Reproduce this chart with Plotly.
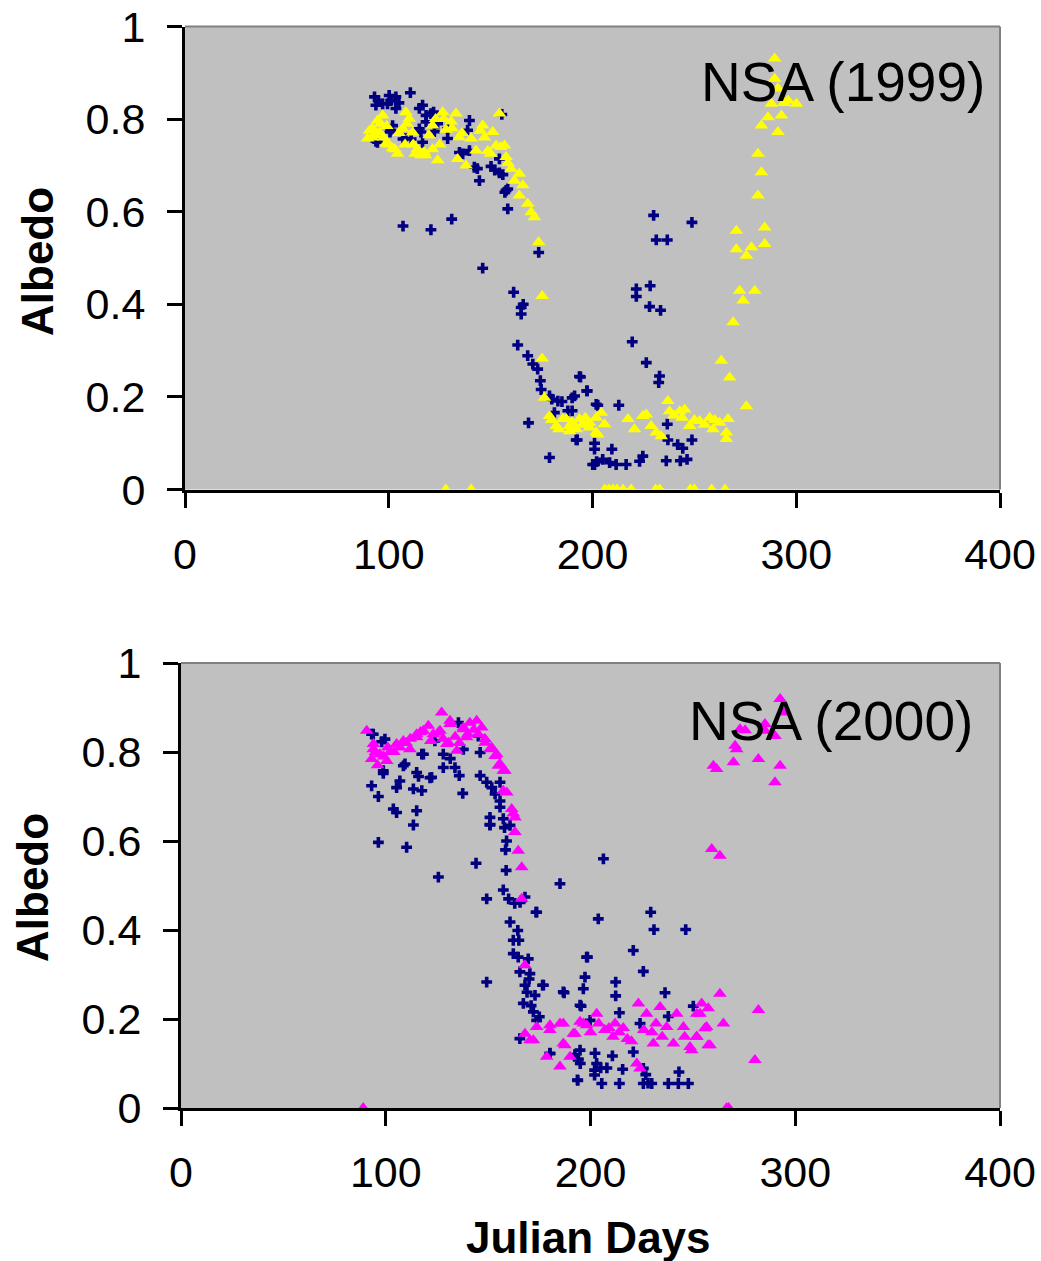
import plotly.graph_objects as go

# ---------------- data ----------------
# NSA 1999 - navy series
b99_x = [93, 93.7, 95, 97, 99.4, 100.2, 101, 103.5, 103.5, 105, 110.6,
         115, 116.6, 118.3, 120.7, 118.3, 122,
         101.9, 101, 100.6, 108.4, 107, 111, 116.6, 93.7, 94.5, 115, 115.8, 122.4, 124, 128.9, 128.9, 139.6, 138.7,
         136.3, 134.7, 139.6, 142, 143.5, 150.2, 152, 154.3, 154.3, 156, 144.5, 158.4, 157, 158.4, 157.6, 155.5,
         107, 120.7, 130.9,
         146.1, 173.6, 161.3, 165, 165, 166, 163.3, 168.2, 170.7, 173.1, 174.4, 174.8, 178.9, 180, 183, 185, 191.2, 190,
         193.6, 197.2, 201.8, 187.9, 190, 181.3, 168.6, 192, 178.9, 201, 201, 201, 202,
         230, 248.8, 231.3, 236.7, 228.3, 221.5, 221.5, 228, 233.4, 219.5, 226.4, 232.9, 232.5, 194.1, 197.4, 202.6, 212.9,
         192.5, 209.5, 200.1, 205, 208.4, 211.6, 216.5, 223.1, 224.7,
         236.7, 237, 241.8, 244.3, 246.4, 243.1, 236.2, 248.8]
b99_y = [0.848, 0.83, 0.84, 0.833, 0.833, 0.851, 0.84, 0.848, 0.823, 0.835, 0.857,
         0.823, 0.83, 0.808, 0.812, 0.794, 0.815,
         0.786, 0.776, 0.772, 0.758, 0.757, 0.757, 0.75, 0.752, 0.75, 0.779, 0.772, 0.773, 0.79, 0.779, 0.758, 0.797, 0.776,
         0.725, 0.728, 0.732, 0.696, 0.693, 0.698, 0.69, 0.714, 0.684, 0.68, 0.667, 0.649, 0.642, 0.606, 0.646, 0.81,
         0.569, 0.561, 0.584,
         0.478, 0.512, 0.426, 0.393, 0.379, 0.40, 0.312, 0.289, 0.271, 0.26, 0.235, 0.216, 0.202, 0.195, 0.191, 0.19, 0.202, 0.198,
         0.244, 0.213, 0.184, 0.17, 0.17, 0.166, 0.144, 0.107, 0.069, 0.10, 0.087, 0.054, 0.06,
         0.592, 0.577, 0.539, 0.539, 0.44, 0.433, 0.417, 0.395, 0.387, 0.319, 0.274, 0.245, 0.231, 0.243, 0.213, 0.182, 0.182,
         0.107, 0.087, 0.054, 0.065, 0.058, 0.054, 0.054, 0.061, 0.072,
         0.141, 0.107, 0.097, 0.089, 0.065, 0.062, 0.062, 0.107]

# NSA 1999 - yellow series
y99_x = [89.6, 92, 94.5, 97, 95.3, 98.6, 101.9, 104.3, 92, 96, 99, 108.4, 110, 106.8, 111.7, 109, 105,
         115.8, 117.4, 124, 121.5, 126.5, 133, 130.6, 128.1, 134.6, 121.5, 119.8, 123, 112, 108,
         90.5, 93, 97.5, 100, 103, 113, 114, 118, 125, 127, 131, 136, 147, 150, 155, 158.5,
         140.4, 137.9, 133.8, 142.8, 146.1, 145, 151, 154.3, 148.6, 152.7, 156.8, 157.6, 160, 164.1, 161.7,
         165.8, 164.1, 168.2, 169.9, 171.5, 173.6, 175.3, 175.3, 176.4, 178.9, 182.2, 185.4, 188.7, 193.6,
         198.5, 201.8, 187.1, 188.7, 198.5, 201.8, 204.3, 205.9, 202.6, 180, 190, 195, 183.5, 192, 196.5,
         217.4, 220.6, 224.7, 226.4, 228.8, 231.3, 233.7, 237, 237.8, 242.8, 245.2, 247.7, 252.6, 257.5,
         259.1, 262.4, 265.7, 266.5, 265.7, 240, 250, 255, 260, 244,
         263.2, 267.3, 275.5, 269, 273.9, 272.2, 279.6, 270.6, 284.5, 270.6, 278, 275.5, 284.5, 281.2,
         282.9, 281.2, 282.9, 291, 286.1, 292.7, 287.8, 296, 300.1, 291, 289.4, 289.4, 294,
         128, 140.4, 206, 208, 210, 212, 215, 219, 231, 233, 248, 250, 258.5, 265]
y99_y = [0.758, 0.78, 0.797, 0.808, 0.771, 0.747, 0.737, 0.725, 0.76, 0.79, 0.785, 0.815, 0.801, 0.779, 0.771, 0.79, 0.77,
         0.722, 0.729, 0.711, 0.735, 0.815, 0.812, 0.795, 0.777, 0.761, 0.786, 0.765, 0.80, 0.745, 0.745,
         0.775, 0.765, 0.76, 0.745, 0.735, 0.725, 0.735, 0.722, 0.745, 0.80, 0.78, 0.77, 0.76, 0.725, 0.74, 0.705,
         0.758, 0.70, 0.714, 0.732, 0.786, 0.775, 0.772, 0.812, 0.731, 0.743, 0.743, 0.718, 0.693, 0.682, 0.667,
         0.657, 0.635, 0.617, 0.599, 0.588, 0.534, 0.418, 0.283, 0.198, 0.159, 0.137, 0.152, 0.137, 0.152,
         0.144, 0.123, 0.152, 0.126, 0.134, 0.155, 0.166, 0.141, 0.119, 0.15, 0.145, 0.14, 0.13, 0.13, 0.155,
         0.152, 0.13, 0.159, 0.162, 0.137, 0.123, 0.115, 0.191, 0.169, 0.169, 0.173, 0.137, 0.148, 0.155,
         0.13, 0.144, 0.123, 0.152, 0.109, 0.16, 0.15, 0.14, 0.15, 0.155,
         0.278, 0.242, 0.18, 0.361, 0.408, 0.429, 0.429, 0.559, 0.566, 0.519, 0.523, 0.505, 0.53, 0.635,
         0.685, 0.725, 0.786, 0.772, 0.804, 0.808, 0.833, 0.84, 0.833, 0.866, 0.887, 0.931, 0.835,
         0, 0, 0, 0, 0, 0, 0, 0, 0, 0, 0, 0, 0, 0]

# NSA 2000 - navy series
b00_x = [93.1, 93.9, 99.6, 98, 98.8, 98.8, 93.1, 96.4, 103.7, 105.3, 106.9, 105.3, 108.6, 109.4, 115.1, 117.6, 116,
         121.6, 113.5, 115.1, 113.5, 96.4, 110.2, 118.4, 117.6, 122.4, 124, 128.1, 128.1, 131.5, 133.8, 135.5,
         135.9, 137.6, 137.9, 145.2, 146.1, 146.1, 149.3, 151.8, 153.4, 155.8, 155.8, 155.8, 150.9, 150.9, 157.4,
         158, 159, 158.5, 160.7, 144.1, 125.7, 158.8, 157.4, 160, 163, 165.6, 149.3, 160.7, 164.5, 173.7, 185.1,
         162.3, 165, 162.3, 164.7, 169.6, 165.5, 170.4, 168, 172.9, 167.2, 172.1, 173.7, 175, 149.3, 177, 186.7,
         194.9, 196.5, 197.3, 198.1, 165.5, 180.2, 192.4, 194, 195, 193.8,
         150.9, 206.3, 168, 173.4, 203.8, 229.4, 231, 246.5, 220.9, 198.5, 225.8, 176.6, 212.3, 212.3, 187.1,
         236.4, 195.4, 214.1, 238, 250.2, 199.8, 224.2, 180.2, 194.9, 194, 202.2, 210.7, 220.9, 203, 202, 205,
         208, 202, 215.7, 225.8, 227, 228.1, 193.6, 205.5, 214.1, 225.8, 229.9, 238, 242.9, 247.8, 243.2,
         170, 169, 171]
b00_y = [0.840, 0.840, 0.829, 0.823, 0.758, 0.752, 0.724, 0.70, 0.672, 0.664, 0.735, 0.72, 0.769, 0.773, 0.754, 0.713, 0.745,
         0.742, 0.717, 0.668, 0.636, 0.597, 0.586, 0.795, 0.795, 0.743, 0.825, 0.795, 0.765, 0.785, 0.765, 0.866,
         0.747, 0.707, 0.806, 0.836, 0.799, 0.747, 0.732, 0.72, 0.706, 0.732, 0.69, 0.676, 0.653, 0.636, 0.65,
         0.63, 0.60, 0.58, 0.635, 0.55, 0.519, 0.534, 0.49, 0.47, 0.46, 0.462, 0.47, 0.418, 0.399, 0.44, 0.504,
         0.377, 0.377, 0.347, 0.339, 0.335, 0.306, 0.302, 0.276, 0.253, 0.235, 0.216, 0.197, 0.205, 0.283, 0.276, 0.261,
         0.231, 0.268, 0.294, 0.339, 0.156, 0.122, 0.12, 0.11, 0.10, 0.062,
         0.637, 0.56, 0.474, 0.44, 0.425, 0.44, 0.401, 0.401, 0.354, 0.339, 0.307, 0.276, 0.283, 0.252, 0.259,
         0.259, 0.229, 0.214, 0.206, 0.229, 0.197, 0.19, 0.123, 0.13, 0.108, 0.123, 0.117, 0.126, 0.10, 0.085, 0.09,
         0.09, 0.074, 0.087, 0.089, 0.075, 0.056, 0.063, 0.055, 0.055, 0.055, 0.055, 0.055, 0.055, 0.055, 0.081,
         0.29, 0.26, 0.23]

# NSA 2000 - magenta series
m00_x = [90.7, 93.9, 93.1, 97.1, 100.5, 102.1, 94, 96, 99, 105.3, 108.6, 111.8, 115.1, 115.1, 118.3, 120.8, 123.2,
         125.7, 126.5, 127.3, 131.4, 131.4, 129.8, 130.6, 134.7, 133.9, 137.9, 137.9, 139.5, 141.1, 144.4, 146.9,
         145.2, 148.5, 148.5, 150.9, 151.7, 153.4, 154.2, 155, 155.8, 157.4, 158.2, 157.4, 159.1, 161.5, 162.3,
         163.1, 163.1, 164.7, 166.4, 166.4, 168, 112, 104, 122, 140, 143,
         95, 101, 107, 110, 117, 128, 136,
         168, 172.1, 173.7, 180.2, 185.1, 178.6, 185.1, 187.5, 190, 192.4, 196.5, 170.5, 180.2, 186.7, 186.7,
         191.6, 194.9, 198.1, 203, 204, 207, 211, 212, 214, 218, 220, 222.6, 224.2, 223.4, 227.4, 226, 230.7,
         234, 237.2, 240.5, 242.1, 245.4, 248.6, 251.8, 253.5, 254.3, 257.5, 256.7, 258.4, 263.2, 264.9, 282,
         280.3, 200, 209, 232, 235, 246, 249.4, 251.9, 255.9, 257.5, 251.9, 230, 216,
         259.2, 263.2, 260, 261.6, 269.8, 270.6, 271.4, 273, 275.5, 282, 285.2, 285.2, 290.1, 292.6, 290.1,
         292.6, 294.2,
         89, 266.5, 267.5]
m00_y = [0.848, 0.806, 0.784, 0.795, 0.78, 0.80, 0.818, 0.77, 0.79, 0.818, 0.825, 0.806, 0.833, 0.84, 0.848, 0.859, 0.84,
         0.844, 0.848, 0.889, 0.863, 0.87, 0.818, 0.821, 0.803, 0.834, 0.851, 0.855, 0.833, 0.866, 0.87, 0.855,
         0.84, 0.829, 0.821, 0.806, 0.81, 0.791, 0.795, 0.769, 0.773, 0.758, 0.758, 0.713, 0.709, 0.672, 0.662,
         0.653, 0.62, 0.578, 0.541, 0.47, 0.321, 0.83, 0.80, 0.825, 0.84, 0.85,
         0.80, 0.81, 0.81, 0.82, 0.845, 0.83, 0.82,
         0.167, 0.152, 0.182, 0.175, 0.19, 0.115, 0.093, 0.141, 0.115, 0.167, 0.19, 0.152, 0.186, 0.19, 0.145,
         0.167, 0.194, 0.186, 0.212, 0.19, 0.175, 0.16, 0.19, 0.17, 0.155, 0.15, 0.10, 0.089, 0.235, 0.212, 0.175, 0.145,
         0.227, 0.182, 0.145, 0.212, 0.182, 0.137, 0.16, 0.212, 0.235, 0.224, 0.182, 0.141, 0.257, 0.19, 0.22,
         0.108, 0.17, 0.18, 0.19, 0.16, 0.16, 0.13, 0.16, 0.179, 0.141, 0.212, 0.17, 0.18,
         0.582, 0.567, 0.769, 0.762, 0.777, 0.814, 0.806, 0.851, 0.849, 0.784, 0.863, 0.848, 0.836, 0.769, 0.732,
         0.919, 0.889,
         0, 0, 0]

x_ticks = [0, 100, 200, 300, 400]
y_ticks = [0, 0.2, 0.4, 0.6, 0.8, 1]
y_tick_text = ["0", "0.2", "0.4", "0.6", "0.8", "1"]
titles = ["NSA (1999)", "NSA (2000)"]
x_title = "Julian Days"
y_title = "Albedo"

# ---------------- figure ----------------
W, H = 1041, 1261
NAVY, YELLOW, MAGENTA, BG = "#000080", "#FFFF00", "#FF00FF", "#C0C0C0"
FONT = "Liberation Sans, Arial, sans-serif"

fig = go.Figure()
cross = dict(symbol="cross", size=9, color=NAVY, line=dict(width=0))
tri = lambda c: dict(symbol="triangle-up", size=12, color=c, line=dict(width=0))

fig.add_trace(go.Scatter(x=b99_x, y=b99_y, mode="markers", marker=cross, xaxis="x", yaxis="y"))
fig.add_trace(go.Scatter(x=y99_x, y=y99_y, mode="markers", marker=tri(YELLOW), xaxis="x", yaxis="y"))
fig.add_trace(go.Scatter(x=b00_x, y=b00_y, mode="markers", marker=cross, xaxis="x2", yaxis="y2"))
fig.add_trace(go.Scatter(x=m00_x, y=m00_y, mode="markers", marker=tri(MAGENTA), xaxis="x2", yaxis="y2"))

def px_x(p):
    return p / W

def px_y(p):
    return 1 - p / H

axis_common = dict(showline=True, linecolor="black", linewidth=3, ticks="outside", ticklen=15,
                   tickwidth=3, tickcolor="black", showgrid=False, zeroline=False, automargin=False,
                   tickfont=dict(family=FONT, size=43, color="black"))

fig.update_layout(
    width=W, height=H, margin=dict(l=0, r=0, t=0, b=0, pad=0, autoexpand=False), showlegend=False,
    paper_bgcolor="white", plot_bgcolor=BG,
    xaxis=dict(domain=[px_x(185), px_x(1000)], range=[0, 400], tickvals=x_ticks, anchor="y",
               ticklabelstandoff=10, **axis_common),
    yaxis=dict(domain=[px_y(489.5), px_y(26.5)], range=[0, 1], tickvals=y_ticks, ticktext=y_tick_text,
               anchor="x", ticklabelstandoff=13, **axis_common),
    xaxis2=dict(domain=[px_x(181), px_x(1000)], range=[0, 400], tickvals=x_ticks, anchor="y2",
                ticklabelstandoff=9, **axis_common),
    yaxis2=dict(domain=[px_y(1108), px_y(663)], range=[0, 1], tickvals=y_ticks, ticktext=y_tick_text,
                anchor="x2", ticklabelstandoff=13, **axis_common),
)

# plot-area border (top and right) in grey
for xr, yr in (("x", "y"), ("x2", "y2")):
    fig.add_shape(type="line", xref=f"{xr} domain", yref=f"{yr} domain", x0=0, x1=1, y0=1, y1=1,
                  line=dict(color="#808080", width=2), layer="above")
    fig.add_shape(type="line", xref=f"{xr} domain", yref=f"{yr} domain", x0=1, x1=1, y0=0, y1=1,
                  line=dict(color="#808080", width=2), layer="above")

# panel labels
fig.add_annotation(text=titles[0], xref="paper", yref="paper", x=px_x(987), y=px_y(82),
                   xanchor="right", yanchor="middle", showarrow=False,
                   font=dict(family=FONT, size=55, color="black"))
fig.add_annotation(text=titles[1], xref="paper", yref="paper", x=px_x(975), y=px_y(721),
                   xanchor="right", yanchor="middle", showarrow=False,
                   font=dict(family=FONT, size=55, color="black"))

# axis titles
for xc, yc in ((37, 262), (32, 888)):
    fig.add_annotation(text=f"<b>{y_title}</b>", xref="paper", yref="paper", x=px_x(xc), y=px_y(yc),
                       xanchor="center", yanchor="middle", textangle=-90, showarrow=False,
                       font=dict(family=FONT, size=44, color="black"))
fig.add_annotation(text=f"<b>{x_title}</b>", xref="paper", yref="paper", x=px_x(588), y=px_y(1237),
                   xanchor="center", yanchor="middle", showarrow=False,
                   font=dict(family=FONT, size=44, color="black"))

fig.write_html("out.html")
